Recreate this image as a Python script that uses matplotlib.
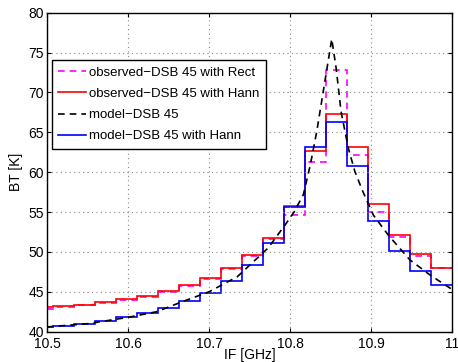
import numpy as np
import matplotlib
matplotlib.use('Agg')
import matplotlib.pyplot as plt

plt.rcParams['font.family'] = ['Liberation Sans', 'DejaVu Sans']

# channel edges of the filter bank [GHz]
edges = [10.5, 10.5071, 10.5330, 10.5589, 10.5849, 10.6108, 10.6367, 10.6626,
         10.6886, 10.7145, 10.7404, 10.7663, 10.7922, 10.8182, 10.8441, 10.8700,
         10.8959, 10.9218, 10.9478, 10.9737, 11.0]

obs_rect = [42.9, 43.15, 43.3, 43.6, 44.0, 44.4, 45.0, 45.7, 46.6, 47.9,
            49.45, 51.6, 54.6, 61.3, 72.85, 62.2, 55.0, 51.9, 49.5, 48.0]
obs_hann = [43.05, 43.25, 43.4, 43.7, 44.1, 44.5, 45.1, 45.8, 46.7, 48.0,
            49.65, 51.8, 55.7, 62.6, 67.3, 63.1, 56.0, 52.1, 49.8, 48.0]
mod_hann = [40.6, 40.75, 40.95, 41.3, 41.8, 42.35, 43.0, 43.8, 44.9, 46.4,
            48.4, 51.1, 55.6, 63.2, 66.3, 60.8, 53.9, 50.1, 47.65, 45.9]

# full resolution model spectrum
mod_f = [10.50, 10.55, 10.60, 10.635, 10.668, 10.70, 10.735, 10.773, 10.794,
         10.805, 10.8165, 10.825, 10.833, 10.841, 10.8515, 10.857, 10.863,
         10.872, 10.880, 10.890, 10.903, 10.9214, 10.948, 10.973, 11.0]
mod_bt = [40.6, 41.0, 41.8, 42.5, 43.8, 45.0, 46.9, 50.5, 53.4,
          55.0, 57.2, 60.9, 65.1, 70.1, 76.7, 73.0, 67.6,
          63.0, 60.1, 57.55, 54.6, 52.1, 49.0, 47.1, 45.3]

fig = plt.figure(figsize=(4.58, 3.62), dpi=100)
ax = fig.add_axes([0.1026, 0.0837, 0.8844, 0.8813])

lw = 1.2
ax.stairs(obs_rect, edges, baseline=None, color='#ff00ff', ls=(0, (4, 3)), lw=lw,
          label='observed\u2212DSB 45 with Rect')
ax.stairs(obs_hann, edges, baseline=None, color='#ff0000', lw=lw,
          label='observed\u2212DSB 45 with Hann')
ax.plot(mod_f, mod_bt, color='k', ls=(0, (4, 3)), lw=lw, label='model\u2212DSB 45')
ax.stairs(mod_hann, edges, baseline=None, color='#0000ff', lw=lw,
          label='model\u2212DSB 45 with Hann')

ax.set_xlim(10.5, 11)
ax.set_ylim(40, 80)
ax.set_xticks([10.5, 10.6, 10.7, 10.8, 10.9, 11])
ax.set_xticklabels(['10.5', '10.6', '10.7', '10.8', '10.9', '11'])
ax.set_yticks(range(40, 81, 5))
ax.grid(True, ls=(0, (1, 3)), color='#888888', lw=0.8)
ax.tick_params(direction='in', top=True, right=True, labelsize=10,
               length=3, width=0.8)
ax.tick_params(axis='x', pad=4)
ax.tick_params(axis='y', pad=2)
for sp in ax.spines.values():
    sp.set_linewidth(1.0)

ax.set_xlabel('IF [GHz]', fontsize=10, labelpad=-2)
ax.set_ylabel('BT [K]', fontsize=10, labelpad=4)

leg = ax.legend(loc='upper left', bbox_to_anchor=(0.012, 0.852), fontsize=9.5,
                fancybox=False, framealpha=1, edgecolor='k', handlelength=2.1,
                handletextpad=0.2, borderpad=0.5, labelspacing=0.68,
                borderaxespad=0)
leg.get_frame().set_linewidth(1.0)

fig.savefig('out.png', dpi=100)
